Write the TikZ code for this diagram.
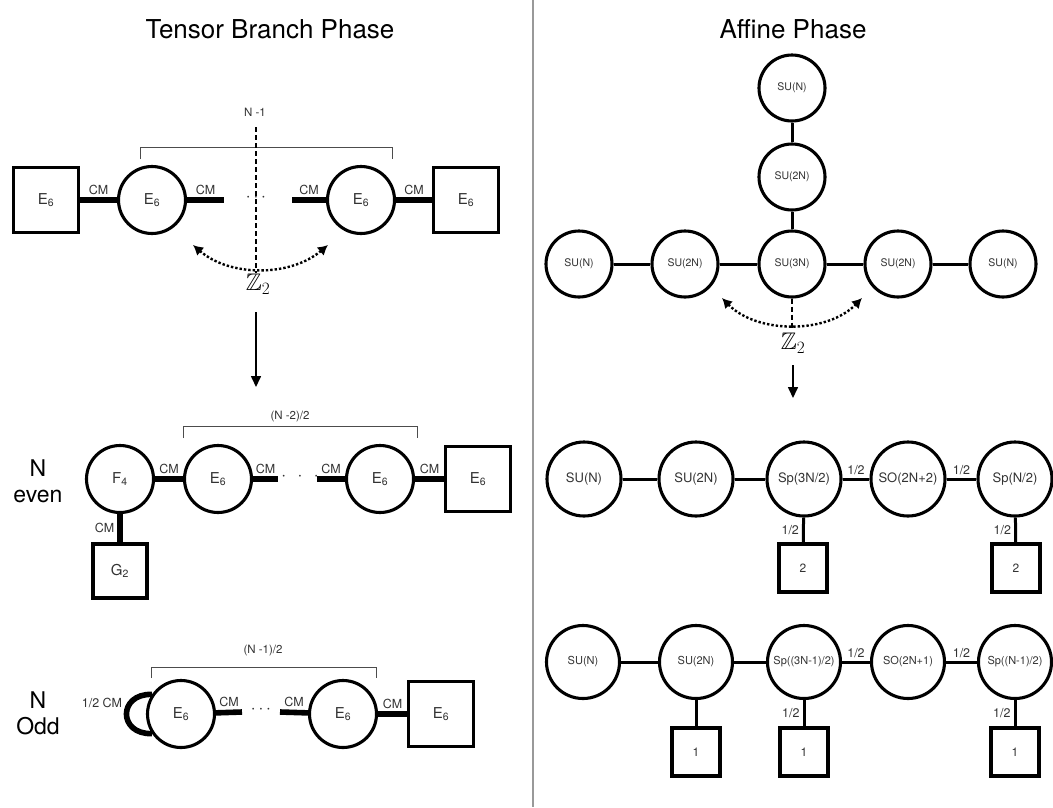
\documentclass[tikz,border=0pt]{standalone}
\usepackage{fontspec}
\setmainfont{TeX Gyre Heros}
\usepackage{amssymb}
\usetikzlibrary{arrows.meta}
\begin{document}
\begin{tikzpicture}[x=1pt,y=-1pt,
  every node/.style={font=\fontsize{11.5}{13}\selectfont,text=black!80},
  gnode/.style={circle,draw,line width=3.1pt,minimum size=67pt,inner sep=0pt,font=\fontsize{15}{17}\selectfont},
  fbox/.style={rectangle,draw,line width=3.1pt,minimum size=65pt,inner sep=0pt,font=\fontsize{15}{17}\selectfont},
  anode/.style={circle,draw,line width=3.1pt,minimum size=66pt,inner sep=0pt,font=\fontsize{10.5}{12}\selectfont},
  bnode/.style={circle,draw,line width=3.1pt,minimum size=74pt,inner sep=0pt,font=\fontsize{13}{15}\selectfont},
  cnode/.style={circle,draw,line width=3.1pt,minimum size=73pt,inner sep=0pt,font=\fontsize{11}{13}\selectfont},
  flav/.style={rectangle,draw,line width=3.1pt,minimum size=48pt,inner sep=0pt,font=\fontsize{12}{14}\selectfont},
  cmline/.style={line width=5.6pt},
  bond/.style={line width=3pt},
  cmlab/.style={above=1.5pt,inner sep=1pt,font=\fontsize{12.5}{14}\selectfont},
  brak/.style={line width=1pt,black!70},
  title/.style={font=\fontsize{26}{29}\selectfont,text=black},
  rowlab/.style={align=center,font=\fontsize{23}{26}\selectfont,text=black},
  zlab/.style={font=\fontsize{24}{26}\selectfont,text=black},
  zarrow/.style={line width=2.4pt,dotted,{Latex[length=10pt,width=11pt]}-{Latex[length=10pt,width=11pt]}},
  maparrow/.style={line width=1.6pt,-{Triangle[length=11pt,width=10pt]}},
  axis/.style={line width=1.1pt,dash pattern=on 5pt off 3pt}]
\fill[white] (0,0) rectangle (1053,807);
\useasboundingbox (0,0) rectangle (1053,807);
\draw[black!40,line width=1.3pt] (533,0) -- (533,807);
\node[title] (tt1) at (270,29) {Tensor Branch Phase};
\node[title] (tt2) at (793,29) {Affine Phase};
% tensor branch, parent theory
\node[fbox] (t0) at (46,200) {E\textsubscript{6}};
\node[gnode] (t1) at (152,200) {E\textsubscript{6}};
\coordinate (t1r) at (224,200);
\node[font=\fontsize{16}{16}\selectfont] (tdots) at (256,198) {$\cdots$};
\coordinate (t2l) at (292,200);
\node[gnode] (t2) at (361,200) {E\textsubscript{6}};
\node[fbox] (t3) at (466,200) {E\textsubscript{6}};
\draw[cmline] (t0) -- node[cmlab] {CM} (t1);
\draw[cmline] (t1) -- node[cmlab] {CM} (t1r);
\draw[cmline] (t2l) -- node[cmlab] {CM} (t2);
\draw[cmline] (t2) -- node[cmlab] {CM} (t3);
\draw[brak] (140,159) -- (140,147) -- (392,147) -- (392,159);
\node (tn) at (255,112) {N -1};
\draw[axis] (256,127) -- (256,273);
\draw[zarrow] (193,245) .. controls (230,277) and (290,277) .. (328,245);
\node[zlab] (tz) at (258,284) {$\mathbb{Z}_2$};
\coordinate (ta) at (256,312);
\coordinate (tb) at (256,387);
\draw[maparrow] (ta) -- (tb);
% N even
\node[rowlab] (ne) at (38,481) {N\\even};
\node[gnode] (f4) at (120,479) {F\textsubscript{4}};
\node[gnode] (m1) at (218,479) {E\textsubscript{6}};
\coordinate (m1r) at (278,479);
\node[font=\fontsize{16}{16}\selectfont] (mdots) at (300,477) {$\cdot\;\,\cdot\;\,\cdot$};
\coordinate (m2l) at (317,479);
\node[gnode] (m2) at (380,479) {E\textsubscript{6}};
\node[fbox] (m3) at (478,479) {E\textsubscript{6}};
\node[fbox,minimum size=54pt] (g2) at (120,571) {G\textsubscript{2}};
\draw[cmline] (f4) -- node[cmlab] {CM} (m1);
\draw[cmline] (m1) -- node[cmlab] {CM} (m1r);
\draw[cmline] (m2l) -- node[cmlab] {CM} (m2);
\draw[cmline] (m2) -- node[cmlab] {CM} (m3);
\draw[cmline] (f4) -- node[left=2pt,inner sep=1pt,font=\fontsize{12.5}{14}\selectfont] {CM} (g2);
\draw[brak] (183,438) -- (183,426) -- (417,426) -- (417,438);
\node (mn) at (290,417) {(N -2)/2};
% N odd
\node[rowlab] (no) at (38,713) {N\\Odd};
\node[gnode] (o1) at (181,714) {E\textsubscript{6}};
\coordinate (o1r) at (242,712);
\node[font=\fontsize{16}{16}\selectfont] (odots) at (261,710) {$\cdots$};
\coordinate (o2l) at (280,712);
\node[gnode] (o2) at (343,714) {E\textsubscript{6}};
\node[fbox] (o3) at (441,714) {E\textsubscript{6}};
\draw[cmline] (o1.146) .. controls +(-34,-1) and +(-34,1) .. (o1.214);
\node[font=\fontsize{12.5}{14}\selectfont] (olab) at (102,703) {1/2 CM};
\draw[cmline] (o1) -- node[cmlab] {CM} (o1r);
\draw[cmline] (o2l) -- node[cmlab] {CM} (o2);
\draw[cmline] (o2) -- node[cmlab] {CM} (o3);
\draw[brak] (151,678) -- (151,667) -- (376,667) -- (376,678);
\node (on) at (263,651) {(N -1)/2};
% affine quiver
\foreach \x/\t [count=\i] in {579/SU(N),685/SU(2N),792/SU(3N),898/SU(2N),1003/SU(N)}
  \node[anode] (a\i) at (\x,264) {\t};
\node[anode] (b1) at (792,177) {SU(2N)};
\node[anode] (b2) at (792,88) {SU(N)};
\foreach \i/\j in {1/2,2/3,3/4,4/5} \draw[bond] (a\i) -- (a\j);
\draw[bond] (a3) -- (b1);
\draw[bond] (b1) -- (b2);
\coordinate (az) at (792,330);
\draw[axis] (a3.south) -- (az);
\draw[zarrow] (722,298) .. controls (757,334) and (827,334) .. (862,298);
\node[zlab] (az2) at (793,343) {$\mathbb{Z}_2$};
\coordinate (aa) at (793,365);
\coordinate (ab) at (793,398);
\draw[maparrow] (aa) -- (ab);
% N even, folded
\foreach \x/\t [count=\i] in {584/{SU(N)},696/{SU(2N)},804/{Sp(3N/2)},908/{SO(2N+2)},1015/{Sp(N/2)}}
  \node[bnode] (c\i) at (\x,479) {\t};
\draw[bond] (c1) -- (c2);
\draw[bond] (c2) -- (c3);
\draw[bond] (c3) -- node[cmlab] {1/2} (c4);
\draw[bond] (c4) -- node[cmlab] {1/2} (c5);
\node[flav] (d3) at (803,568) {2};
\node[flav] (d5) at (1016,568) {2};
\draw[bond] (c3) -- node[left=2pt,inner sep=1pt,font=\fontsize{12.5}{14}\selectfont] {1/2} (d3);
\draw[bond] (c5) -- node[left=2pt,inner sep=1pt,font=\fontsize{12.5}{14}\selectfont] {1/2} (d5);
% N odd, folded
\foreach \x/\t [count=\i] in {583/{SU(N)},696/{SU(2N)},804/{Sp((3N-1)/2)},908/{SO(2N+1)},1015/{Sp((N-1)/2)}}
  \node[cnode] (e\i) at (\x,662) {\t};
\draw[bond] (e1) -- (e2);
\draw[bond] (e2) -- (e3);
\draw[bond] (e3) -- node[cmlab] {1/2} (e4);
\draw[bond] (e4) -- node[cmlab] {1/2} (e5);
\node[flav] (h2) at (696,752) {1};
\node[flav] (h3) at (804,752) {1};
\node[flav] (h5) at (1015,752) {1};
\draw[bond] (e2) -- (h2);
\draw[bond] (e3) -- node[left=2pt,inner sep=1pt,font=\fontsize{12.5}{14}\selectfont] {1/2} (h3);
\draw[bond] (e5) -- node[left=2pt,inner sep=1pt,font=\fontsize{12.5}{14}\selectfont] {1/2} (h5);
\end{tikzpicture}
\end{document}
